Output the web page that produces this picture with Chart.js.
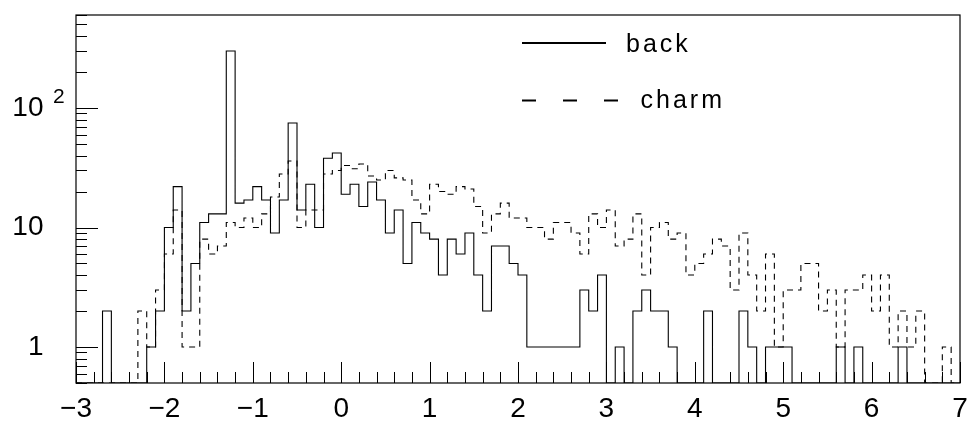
<!DOCTYPE html>
<html><head><meta charset="utf-8">
<script src="https://cdn.jsdelivr.net/npm/chart.js@4/dist/chart.umd.min.js"></script>
<style>html,body{margin:0;padding:0;background:#fff}#wrap{width:969px;height:422px}</style>
</head><body><div id="wrap"><canvas id="c" width="969" height="422"></canvas></div>
<script>
// ---- data ----
const xMin = -3, xMax = 7, nBins = 100;
const yMin = 0.5, yMax = 600;
const seriesNames = ['back', 'charm'];
const backValues = [
  0,0,0,2,0,0,0,0,1,2,
  10,22,2,5,11,13,13,300,16,17,
  22,17,9,17,75,14,23,10,38,42,
  19,23,15,24,17,9,14,5,11,9,
  8,4,8,6,9,4,2,7,7,5,
  4,1,1,1,1,1,1,3,2,4,
  0,1,0,2,3,2,2,1,0,0,
  0,2,0,0,0,2,1,0,1,1,
  1,0,0,0,0,0,1,0,1,0,
  0,0,0,1,0,0,0,0,0,0
];
const charmValues = [
  0,0,0,0,0,0,0,2,1,3,
  6,14,1,1,8,6,7,11,10,12,
  10,13,18,28,36,10,14,14,28,30,
  33,31,34,27,25,30,26,25,17,13,
  23,20,19,22,21,15,9,13,16,12,
  12,10,10,8,11,11,9,6,13,10,
  14,7,8,13,4,10,11,8,9,4,
  5,6,8,7,3,9,4,2,6,1,
  3,3,5,5,2,3,1,3,3,4,
  2,4,1,2,1,2,0,0,1,0
];
const xTickValues = [-3,-2,-1,0,1,2,3,4,5,6,7];
const xTickLabels = ['\u22123','\u22122','\u22121','0','1','2','3','4','5','6','7'];
const yTickValues = [1, 10, 100];
const yTickLabels = ['1', '10', '10^2'];

// ---- build step outlines ----
function stepPoints(vals){
  const w = (xMax - xMin) / nBins;
  const pts = [];
  vals.forEach((v, i) => {
    const lo = xMin + i * w, hi = xMin + (i + 1) * w;
    const y = v > 0 ? v : yMin;
    pts.push({x: lo, y: y}, {x: hi, y: y});
  });
  return pts;
}

const FONT = 'Liberation Sans, Arial, sans-serif';
const tickFont = {family: FONT, size: 28};
const Y_LABEL_PAD = 32.5;

const rootStyle = {
  id: 'rootStyle',
  afterDraw(chart){
    const {ctx, chartArea: a, scales: {x, y}} = chart;
    ctx.save();
    ctx.strokeStyle = '#000';
    ctx.lineWidth = 1.2;
    ctx.strokeRect(a.left, a.top, a.right - a.left, a.bottom - a.top);
    ctx.lineWidth = 1;
    ctx.beginPath();
    for (let k = 0; k <= 50; k++){
      const v = xMin + k * 0.2;
      const px = Math.round(x.getPixelForValue(v)) + 0.5;
      const len = (k % 5 === 0) ? 21 : 11;
      ctx.moveTo(px, a.bottom); ctx.lineTo(px, a.bottom - len);
    }
    for (let e = -1; e <= 2; e++){
      for (let d = 1; d <= 9; d++){
        const v = d * Math.pow(10, e);
        if (v < yMin || v > yMax) continue;
        const py = Math.round(y.getPixelForValue(v)) + 0.5;
        const len = d === 1 ? 22 : 11;
        ctx.moveTo(a.left, py); ctx.lineTo(a.left + len, py);
      }
    }
    ctx.stroke();
    // exponents of y tick labels
    ctx.fillStyle = '#000';
    yTickLabels.forEach((lab, i) => {
      const parts = lab.split('^');
      if (parts.length < 2) return;
      const py = y.getPixelForValue(yTickValues[i]);
      ctx.font = '21px ' + FONT;
      ctx.textAlign = 'left';
      ctx.textBaseline = 'middle';
      ctx.fillText(parts[1], a.left - Y_LABEL_PAD + 9.5, py - 11);
    });
    // legend
    ctx.lineWidth = 2.2;
    ctx.setLineDash([]);
    ctx.beginPath(); ctx.moveTo(522, 43); ctx.lineTo(606, 43); ctx.stroke();
    ctx.setLineDash([14, 27]);
    ctx.beginPath(); ctx.moveTo(522, 100.5); ctx.lineTo(618, 100.5); ctx.stroke();
    ctx.setLineDash([]);
    ctx.font = '25px ' + FONT;
    ctx.textAlign = 'left';
    ctx.textBaseline = 'alphabetic';
    try { ctx.letterSpacing = '3px'; } catch(e) {}
    ctx.fillText(seriesNames[0], 626, 51.7);
    ctx.fillText(seriesNames[1], 640.5, 108.3);
    ctx.restore();
  }
};

new Chart(document.getElementById('c'), {
  type: 'line',
  data: {
    datasets: [
      {label: seriesNames[0], data: stepPoints(backValues), borderColor: '#000', borderWidth: 1.1,
       pointRadius: 0, tension: 0, fill: false},
      {label: seriesNames[1], data: stepPoints(charmValues), borderColor: '#000', borderWidth: 1.1,
       borderDash: [6, 5], pointRadius: 0, tension: 0, fill: false}
    ]
  },
  options: {
    responsive: false, animation: false, devicePixelRatio: 1,
    layout: {padding: {left: 0, right: 9, top: 15, bottom: 0}},
    plugins: {legend: {display: false}, tooltip: {enabled: false}, title: {display: false}},
    scales: {
      x: {
        type: 'linear', min: xMin, max: xMax,
        grid: {display: false, drawTicks: false}, border: {display: false},
        afterBuildTicks: s => { s.ticks = xTickValues.map(v => ({value: v})); },
        afterFit: s => { s.height = 39; s.paddingLeft = 0; s.paddingRight = 0; s.paddingTop = 0; s.paddingBottom = 0; },
        ticks: {autoSkip: false, maxRotation: 0, minRotation: 0, padding: 9.5, color: '#000', font: tickFont,
                callback: (v, i) => xTickLabels[i]}
      },
      y: {
        type: 'logarithmic', min: yMin, max: yMax,
        grid: {display: false, drawTicks: false}, border: {display: false},
        afterBuildTicks: s => { s.ticks = yTickValues.map(v => ({value: v})); },
        afterFit: s => { s.width = 76; s.paddingLeft = 0; s.paddingRight = 0; s.paddingTop = 0; s.paddingBottom = 0; },
        ticks: {autoSkip: false, padding: Y_LABEL_PAD, color: '#000', font: tickFont,
                callback: (v, i) => yTickLabels[i].split('^')[0]}
      }
    }
  },
  plugins: [rootStyle]
});
</script>
</body></html>
